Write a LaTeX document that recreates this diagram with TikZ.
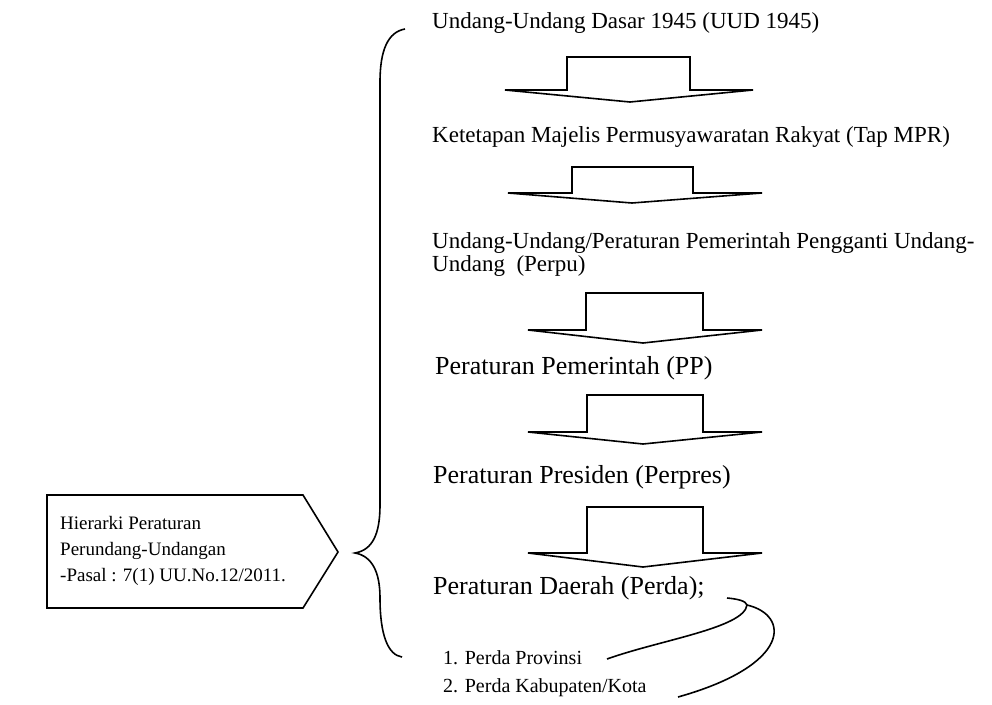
\documentclass[tikz,border=0pt]{standalone}
\usepackage{fontspec}
\setmainfont{Liberation Serif}
\begin{document}
\begin{tikzpicture}[x=1pt,y=-1pt,
  line/.style={line width=1.6pt,line join=miter},
  lbl/.style={anchor=west,inner sep=0pt,font=\fontsize{23}{23}\selectfont},
  biglbl/.style={anchor=west,inner sep=0pt,font=\fontsize{26}{26}\selectfont},
  smalllbl/.style={anchor=west,inner sep=0pt,font=\fontsize{20}{20}\selectfont},
  flatarrow/.style={line width=1.6pt,line join=miter,fill=white}]
\useasboundingbox (0,0) rectangle (992,704);

% block arrows: xl, xr, top, wing y, wing left, wing right, tip x, tip y
\newcommand{\blockarrow}[8]{%
  \draw[flatarrow] (#1,#3) -- (#2,#3) -- (#2,#4) -- (#6,#4) -- (#7,#8) -- (#5,#4) -- (#1,#4) -- cycle;}

% levels of the hierarchy
\node[lbl] (uud) at (432,23) {Undang-Undang Dasar 1945 (UUD 1945)};
\blockarrow{567}{690}{57}{90}{505}{753}{630}{102}
\node[lbl] (tap) at (432,137) {Ketetapan Majelis Permusyawaratan Rakyat (Tap MPR)};
\blockarrow{572}{693}{167}{193}{508}{762}{632}{203}
\node[lbl,align=left,font=\fontsize{23}{23}\selectfont] (uu) at (432,254) {Undang-Undang/Peraturan Pemerintah Pengganti Undang-\\Undang\ \ (Perpu)};
\blockarrow{586}{703}{293}{330}{528}{762}{643}{343}
\node[biglbl] (pp) at (435,368) {Peraturan Pemerintah (PP)};
\blockarrow{587}{703}{395}{432}{528}{762}{643}{444}
\node[biglbl] (perpres) at (433,477) {Peraturan Presiden (Perpres)};
\blockarrow{587}{703}{507}{553}{528}{762}{643}{567}
\node[biglbl] (perda) at (433,588) {Peraturan Daerah (Perda);};

% regional regulations
\node[smalllbl] (prov) at (443,658) {1. Perda Provinsi};
\node[smalllbl] (kab) at (443,688) {2. Perda Kabupaten/Kota};
\coordinate (cusp) at (747,605);
\coordinate (provend) at (607,659);
\coordinate (kabend) at (678,697);
\draw[line] (727,598) .. controls (738,599) and (746,601) .. (cusp);
\draw[line] (cusp) .. controls (744,628) and (660,640) .. (provend);
\draw[line] (cusp) .. controls (790,615) and (792,665) .. (kabend);

% curly brace
\draw[line] (405,29) .. controls (388,32) and (380,50) .. (380,82)
  -- (380,505) .. controls (380,535) and (372,550) .. (355,553)
  .. controls (372,556) and (380,572) .. (380,598)
  .. controls (380,635) and (388,655) .. (402,657);

% title box
\draw[line] (47,495) -- (303,495) -- (338,552) -- (303,608) -- (47,608) -- cycle;
\node[anchor=west,align=left,inner sep=0pt,font=\fontsize{19}{26}\selectfont] (title) at (60,551)
  {Hierarki Peraturan\\Perundang-Undangan\\-Pasal : 7(1) UU.No.12/2011.};
\end{tikzpicture}
\end{document}
